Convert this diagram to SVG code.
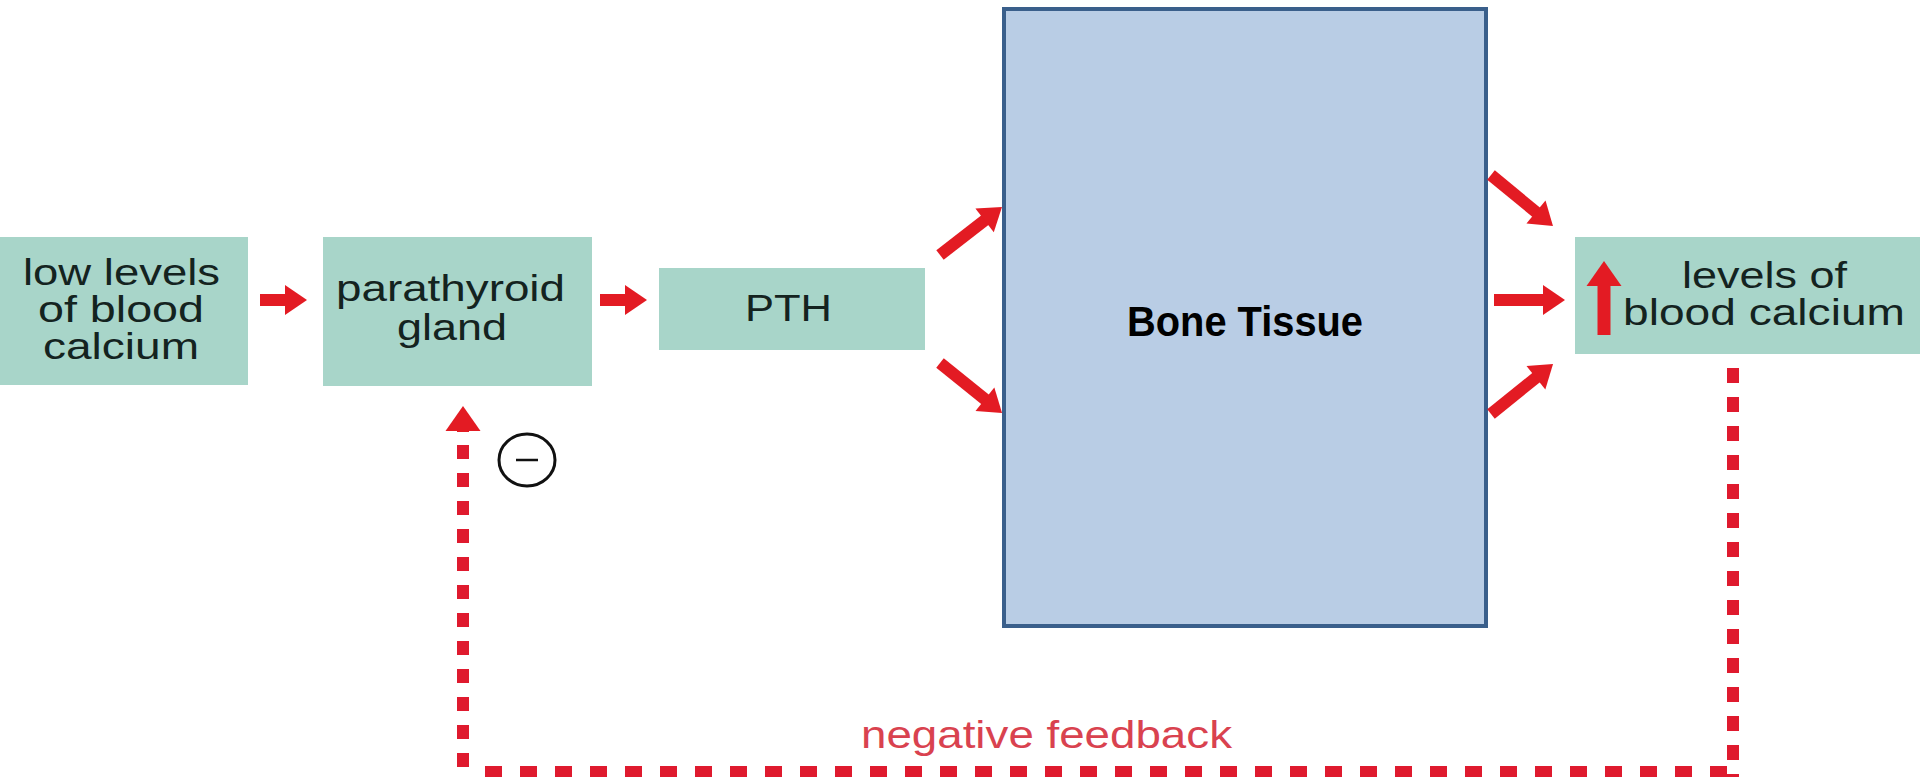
<svg xmlns="http://www.w3.org/2000/svg" width="1920" height="777" viewBox="0 0 1920 777">
  <style>
    .box { fill: #a8d5c9; }
    .lbl { font-family: "Liberation Sans", Arial, sans-serif; font-size: 37px; fill: #14231f; }
    .flow { stroke: #e31b23; stroke-width: 12; fill: none; marker-end: url(#head); }
    .fb { stroke: #df1a2e; stroke-width: 12; fill: none; }
  </style>
  <defs>
    <!-- block arrowhead; line end sits 12px behind the tip -->
    <marker id="head" markerUnits="userSpaceOnUse" markerWidth="24" markerHeight="32" refX="10" refY="15" orient="auto" overflow="visible">
      <path d="M0,0 L22,15 L0,30 Z" fill="#e31b23"/>
    </marker>
    <marker id="headBig" markerUnits="userSpaceOnUse" markerWidth="28" markerHeight="36" refX="12" refY="17.5" orient="auto" overflow="visible">
      <path d="M0,0 L25,17.5 L0,35 Z" fill="#e31b23"/>
    </marker>
  </defs>

  <rect width="1920" height="777" fill="#ffffff"/>

  <g id="low-calcium">
    <rect class="box" x="0" y="237" width="248" height="148"/>
    <text class="lbl" x="23" y="285" textLength="197" lengthAdjust="spacingAndGlyphs">low levels</text>
    <text class="lbl" x="38" y="322" textLength="166" lengthAdjust="spacingAndGlyphs">of blood</text>
    <text class="lbl" x="43" y="359" textLength="156" lengthAdjust="spacingAndGlyphs">calcium</text>
  </g>

  <g id="parathyroid">
    <rect class="box" x="323" y="237" width="269" height="149"/>
    <text class="lbl" x="336" y="301" textLength="229" lengthAdjust="spacingAndGlyphs">parathyroid</text>
    <text class="lbl" x="397" y="340" textLength="110" lengthAdjust="spacingAndGlyphs">gland</text>
  </g>

  <g id="pth">
    <rect class="box" x="659" y="268" width="266" height="82"/>
    <text class="lbl" x="745" y="321" font-size="39" textLength="87" lengthAdjust="spacingAndGlyphs">PTH</text>
  </g>

  <g id="bone-tissue">
    <rect x="1004" y="9" width="482" height="617" fill="#b9cde5" stroke="#3a5f8b" stroke-width="4"/>
    <text x="1127" y="336" font-family="'Liberation Sans', Arial, sans-serif" font-size="42" font-weight="bold" fill="#000000" textLength="236" lengthAdjust="spacingAndGlyphs">Bone Tissue</text>
  </g>

  <g id="high-calcium">
    <rect class="box" x="1575" y="237" width="345" height="117"/>
    <line x1="1604" y1="335" x2="1604" y2="274" stroke="#e31b23" stroke-width="13" marker-end="url(#headBig)"/>
    <text class="lbl" x="1682" y="288" textLength="165" lengthAdjust="spacingAndGlyphs">levels of</text>
    <text class="lbl" x="1623" y="325" textLength="282" lengthAdjust="spacingAndGlyphs">blood calcium</text>
  </g>

  <g id="inhibition">
    <ellipse cx="527" cy="460" rx="28" ry="26" fill="none" stroke="#111111" stroke-width="3"/>
    <line x1="516" y1="460" x2="538" y2="460" stroke="#111111" stroke-width="2.5"/>
  </g>

  <g id="connectors">
    <line class="flow" x1="260" y1="300" x2="295" y2="300"/>
    <line class="flow" x1="600" y1="300" x2="635" y2="300"/>
    <line class="flow" x1="940" y1="255" x2="992.5" y2="214.3"/>
    <line class="flow" x1="940" y1="363" x2="992.7" y2="405.5"/>
    <line class="flow" x1="1491" y1="175" x2="1543.7" y2="218.4"/>
    <line class="flow" x1="1494" y1="300" x2="1553" y2="300"/>
    <line class="flow" x1="1491" y1="414" x2="1543.7" y2="371.5"/>

    <!-- negative feedback loop -->
    <line x1="463" y1="432" x2="463" y2="419" stroke="#e31b23" stroke-width="12" marker-end="url(#headBig)"/>
    <line class="fb" x1="463" y1="445" x2="463" y2="777" stroke-dasharray="14 14"/>
    <line class="fb" x1="485" y1="772" x2="1740" y2="772" stroke-dasharray="17 18"/>
    <line class="fb" x1="1733" y1="368" x2="1733" y2="777" stroke-dasharray="15 14"/>
    <text x="861" y="748" font-family="'Liberation Sans', Arial, sans-serif" font-size="39" fill="#d9424f" textLength="371" lengthAdjust="spacingAndGlyphs">negative feedback</text>
  </g>
</svg>
